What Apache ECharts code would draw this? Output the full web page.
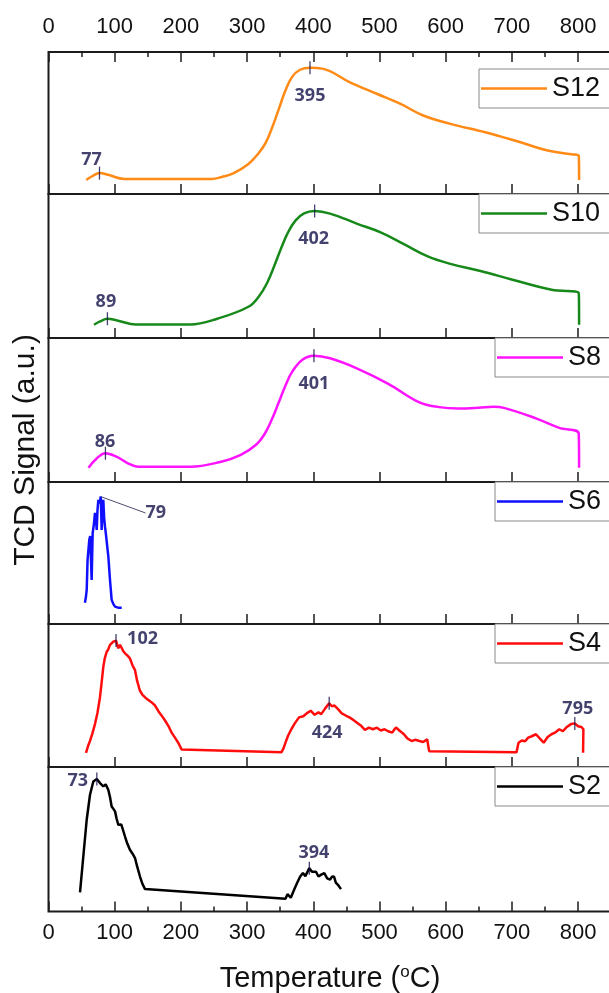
<!DOCTYPE html>
<html>
<head>
<meta charset="utf-8">
<script src="https://cdn.jsdelivr.net/npm/echarts@6/dist/echarts.min.js"></script>
<style>
  html, body { margin: 0; padding: 0; background: #fff; }
  #chart { width: 609px; height: 993px; }
</style>
</head>
<body>
<div id="chart"></div>
<script>
// ---- TPR profiles: temperature (°C) vs. TCD signal (a.u., 0–100 per panel) ----
const sampleNames = ['S12', 'S10', 'S8', 'S6', 'S4', 'S2'];
const tempTickLabels = ['0', '100', '200', '300', '400', '500', '600', '700', '800'];

const s12Temp   = [57, 66, 77.5, 90, 114.5, 150, 200, 246.5, 262, 279, 302, 317, 328, 338, 348, 358, 368, 380, 395, 413.6, 454.7, 495.8, 531, 566, 607, 660, 713, 754, 790, 801, 801.5];
const s12Signal = [9.9, 12.5, 14.8, 13.5, 10.6, 10.6, 10.6, 10.6, 12, 14.5, 21.2, 28.5, 36, 47, 60, 73, 82.5, 87.5, 88.9, 88.3, 78.8, 70.6, 63.6, 55.3, 49.4, 43.5, 36.4, 30.6, 28, 27, 9.9];
const s12Peaks  = [77, 395];

const s10Temp   = [68.7, 78, 89, 105, 132, 214, 255, 302, 318, 330, 341, 352, 362, 373, 386, 402, 425.4, 466.5, 501.7, 536.9, 572, 607, 654, 701, 760, 801, 801.5];
const s10Signal = [9.2, 11.5, 13.4, 12, 9.4, 9.4, 13.4, 21.7, 29, 38, 50, 63, 73.5, 81.5, 86.5, 88.2, 86.4, 79.3, 73.4, 65.2, 56.9, 51.5, 46.4, 40.5, 33.5, 31.1, 9.2];
const s10Peaks  = [89, 402];

const s8Temp   = [60.5, 72, 86, 102.7, 120, 135, 214, 261, 290.5, 314, 326, 337, 348, 358, 368, 384, 401, 425.4, 466.5, 513.3, 560.3, 590, 619, 650, 671.8, 689.4, 736.2, 771.5, 801, 801.5];
const s8Signal = [9.9, 16, 20, 17.6, 13, 10.6, 10.6, 14.1, 18.8, 26, 33, 43, 55.5, 67, 76.5, 85, 87.7, 85.9, 78.8, 68.2, 55.3, 52, 51, 51.5, 52.2, 51.3, 44.2, 37.6, 33.4, 9.9];
const s8Peaks  = [86, 401];

const s6Temp   = [55, 56.5, 57.7, 59, 61.6, 63, 65.2, 66.7, 68.5, 70.2, 72, 72.8, 74, 75.3, 77, 79, 80.3, 81.5, 82.8, 84, 85.3, 87, 90.4, 92.9, 95.4, 98, 100.5, 105, 110.6];
const s6Signal = [15, 19, 24, 45, 59.3, 62, 31, 64, 70, 78.2, 72, 66.3, 80, 87.4, 85, 89.8, 66.3, 80, 87.5, 75, 68.7, 62, 47.5, 31, 17, 14, 12.2, 11.5, 11.5];
const s6Peaks  = [79];

const s4Temp   = [56.6, 60, 62.7, 66, 70.2, 74, 77.8, 80, 82.8, 85, 87.9, 90, 92.9, 95, 97.9, 100, 102, 104, 105.5, 108, 110.6, 113, 115.6, 119, 123, 127, 130.7, 134, 138, 142, 148.3, 155, 161, 166, 171, 176, 181, 186, 191, 196, 201, 203.6,
                  352, 355, 358, 362, 366.8, 372, 378.4, 385, 390, 396, 402, 407.8, 412, 418, 424, 428, 432, 437, 443, 449, 454.7, 460, 466, 472.3, 478, 484, 490, 496, 502, 507.6, 513, 519.3, 522, 525, 530, 536.9, 542, 548.6, 554, 560.3, 566, 572, 575,
                  707, 710, 715, 720, 724.6, 730, 736.4, 742, 748, 754, 759.8, 765, 771.6, 777, 783, 789.2, 795, 800, 805, 808, 807.5];
const s4Signal = [9.9, 15, 18.2, 23, 30, 38, 48.8, 58, 70, 76, 80.6, 82, 85.4, 86, 87.7, 86.5, 88.4, 85, 83, 85.5, 84.7, 81, 79.5, 78, 76, 71, 67.7, 60, 53.5, 50.5, 47.7, 45.5, 43, 39, 35.9, 32.5, 28.8, 24, 20.5, 17, 12.3, 11.1,
                  10.4, 13, 17, 22, 26.4, 30.5, 34.7, 35.5, 37.5, 39.4, 36.5, 38.2, 37, 41, 44.6, 42.5, 43, 40.6, 37.5, 36, 34.7, 33, 31, 28.8, 26, 27.5, 26.4, 27.5, 25.5, 26.4, 25, 24, 26, 27.6, 25.5, 22.9, 20, 18.2, 19, 18.2, 17.5, 19.4, 11.1,
                  10.4, 17, 18.5, 18, 20.5, 21.5, 22.9, 20, 17, 21, 22.9, 24, 26.4, 25, 28, 30, 30.5, 28.5, 28, 26.4, 9.9];
const s4Peaks  = [102, 424, 795];

const s2Temp   = [47.6, 52.6, 57.7, 62.7, 67.7, 73, 77.8, 80, 82.8, 86.4, 90.3, 93, 95.4, 98, 100.5, 103, 105.5, 110, 113, 115.6, 119, 123, 127, 130.7, 134, 138.2, 142, 145.8,
                  358, 361, 363.8, 366, 368, 371, 375.5, 380, 384.3, 388, 390, 394, 398, 401, 404, 407.8, 412, 416.6, 421, 425.4, 428, 431.3, 434, 437.2, 440, 441.8];
const s2Signal = [13.2, 38.1, 63.5, 80.8, 90, 91.7, 88.9, 89.5, 86.6, 88, 84.3, 79, 72.7, 71, 69.3, 64, 60, 60.2, 58.9, 51.9, 47, 42.7, 40, 37, 31, 24.2, 19, 15.5,
                  8.8, 12, 12.7, 9.5, 9.3, 15, 19.7, 24, 26.6, 24.5, 25.5, 30, 27.5, 28, 27.5, 24.2, 25.5, 26.6, 23, 22, 24, 24.2, 20, 18.5, 17.5, 15.5];
const s2Peaks  = [73, 394];

// ---- layout ----
const FONT = "'Liberation Sans', Arial, sans-serif";
const NAVY = '#141148';
const FRAME = '#1c1c1c';
const X0 = 48.5;            // pixel of 0 °C
const PX_PER_DEG = 0.662;   // horizontal scale
const X_MAX = 900;          // axis runs past the right edge of the canvas
const PANEL_TOP    = [52, 194, 338, 482, 624, 767];
const PANEL_BOTTOM = [194, 338, 482, 624, 767, 911.5];
const LINE_COLORS = ['#ff8a16', '#17891a', '#ff14ff', '#1010ff', '#ff0d0d', '#000000'];
const LEGEND_POS = [[479, 69], [479, 194], [495, 338], [495, 482], [495, 624], [495, 767]];
// label centre relative to its peak marker, px
const LABEL_OFFSETS = [
  [[-8, -13.5], [0, 28]],
  [[-1.5, -17], [-1, 27.5]],
  [[-0.5, -11.5], [0, 28]],
  [[55, 16.5]],
  [[26.5, -1.5], [-2, 30], [3, -15]],
  [[-19, 1.5], [4.5, -15]]
];

const curves = [
  { temp: s12Temp, signal: s12Signal, peaks: s12Peaks },
  { temp: s10Temp, signal: s10Signal, peaks: s10Peaks },
  { temp: s8Temp,  signal: s8Signal,  peaks: s8Peaks },
  { temp: s6Temp,  signal: s6Signal,  peaks: s6Peaks },
  { temp: s4Temp,  signal: s4Signal,  peaks: s4Peaks },
  { temp: s2Temp,  signal: s2Signal,  peaks: s2Peaks }
];

// signal of a profile at temperature t (linear between recorded points)
function signalAt(temp, signal, t) {
  let best = 0;
  for (let k = 0; k < temp.length - 1; k++) {
    if (temp[k] <= t && t <= temp[k + 1]) {
      const f = temp[k + 1] === temp[k] ? 0 : (t - temp[k]) / (temp[k + 1] - temp[k]);
      return signal[k] + f * (signal[k + 1] - signal[k]);
    }
    if (Math.abs(temp[k] - t) < Math.abs(temp[best] - t)) best = k;
  }
  return signal[best];
}

const tickFormatter = v => tempTickLabels.includes(String(v)) ? String(v) : '';
const tickStyle = { color: FRAME, width: 1.5 };

const grids = [], xAxes = [], yAxes = [], series = [], legends = [];

sampleNames.forEach((name, i) => {
  grids.push({
    left: X0, top: PANEL_TOP[i],
    width: X_MAX * PX_PER_DEG, height: PANEL_BOTTOM[i] - PANEL_TOP[i],
    outerBoundsMode: 'none', containLabel: false,
    show: true, borderColor: FRAME, borderWidth: 2, backgroundColor: 'transparent'
  });
  const last = i === sampleNames.length - 1;
  xAxes.push({
    type: 'value', gridIndex: i, position: 'bottom',
    min: 0, max: X_MAX, interval: 100,
    axisLine: { show: false }, splitLine: { show: false },
    axisTick: { show: true, inside: true, length: 10, lineStyle: tickStyle },
    minorTick: { show: last, splitNumber: 2, length: 5, lineStyle: tickStyle },
    axisLabel: { show: last, margin: 10.5, formatter: tickFormatter, fontSize: 22, fontFamily: FONT, color: '#111' }
  });
  yAxes.push({ type: 'value', gridIndex: i, min: 0, max: 100, show: false });

  const c = curves[i];
  series.push({
    type: 'line', name, xAxisIndex: i, yAxisIndex: i,
    data: c.temp.map((t, k) => [t, c.signal[k]]),
    showSymbol: false, symbol: 'none',
    smooth: i < 3 ? 0.4 : false,
    lineStyle: { color: LINE_COLORS[i], width: 2.5 },
    itemStyle: { color: LINE_COLORS[i] },
    clip: true, silent: true
  });

  const leader = name === 'S6';
  series.push({
    type: 'scatter', xAxisIndex: i, yAxisIndex: i, silent: true, z: 5,
    symbol: 'rect', symbolSize: leader ? [0.5, 0.5] : [1.3, 13],
    itemStyle: { color: NAVY },
    data: c.peaks.map((t, k) => ({
      value: [t, signalAt(c.temp, c.signal, t)],
      label: leader ? {} : { offset: LABEL_OFFSETS[i][k] }
    })),
    label: {
      show: true, position: 'inside', formatter: p => String(p.value[0]),
      color: NAVY, fontFamily: "'Noto Sans', 'Open Sans', sans-serif", fontWeight: 'bold', fontSize: 18
    },
    labelLayout: leader ? { dx: LABEL_OFFSETS[i][0][0], dy: LABEL_OFFSETS[i][0][1] } : undefined,
    labelLine: leader ? { show: true, lineStyle: { color: '#4d4b6e', width: 1 } } : undefined
  });

  legends.push({
    data: [name], left: LEGEND_POS[i][0], top: LEGEND_POS[i][1],
    orient: 'horizontal', icon: 'rect', itemWidth: 66, itemHeight: 2.6,
    padding: [5, 20, 5, 2], borderColor: '#8a8a8a', borderWidth: 1, backgroundColor: '#fff',
    selectedMode: false,
    textStyle: { fontSize: 27, fontFamily: FONT, color: '#111', lineHeight: 29 }
  });
});

// temperature scale along the top of the first panel
xAxes.push({
  type: 'value', gridIndex: 0, position: 'top',
  min: 0, max: X_MAX, interval: 100,
  axisLine: { show: false }, splitLine: { show: false },
  axisTick: { show: true, inside: true, length: 10, lineStyle: tickStyle },
  minorTick: { show: true, splitNumber: 2, length: 5, lineStyle: tickStyle },
  axisLabel: { show: true, margin: 14, formatter: tickFormatter, fontSize: 22, fontFamily: FONT, color: '#111' }
});

const chart = echarts.init(document.getElementById('chart'), null, { renderer: 'canvas' });
chart.setOption({
  animation: false,
  backgroundColor: '#fff',
  grid: grids, xAxis: xAxes, yAxis: yAxes, series, legend: legends,
  graphic: [
    {
      type: 'text', x: 330, y: 979, z: 10,
      style: {
        text: 'Temperature ({sup|o}C)', fontSize: 29, fontFamily: FONT, fill: '#111',
        align: 'center', verticalAlign: 'middle',
        rich: { sup: { fontSize: 17, fontFamily: FONT, fill: '#111', padding: [0, 0, 13, 0] } }
      }
    },
    {
      type: 'text', x: 26, y: 450, rotation: Math.PI / 2, z: 10,
      style: {
        text: 'TCD Signal (a.u.)', fontSize: 30, fontFamily: FONT, fill: '#111',
        align: 'center', verticalAlign: 'middle'
      }
    }
  ]
});
</script>
</body>
</html>
